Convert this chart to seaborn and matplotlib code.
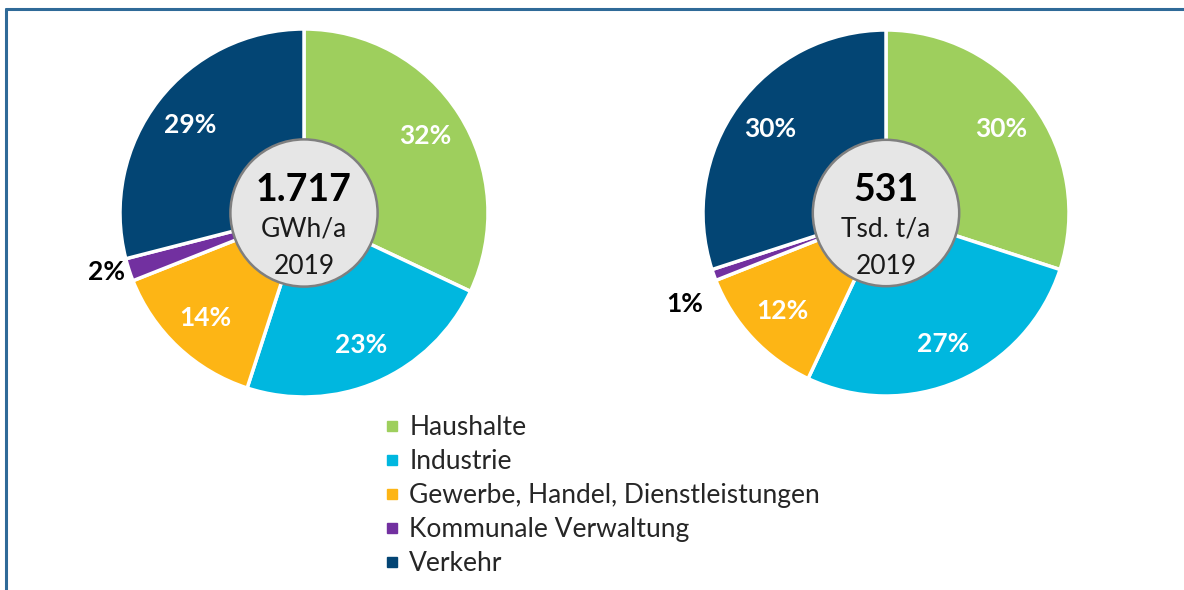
import matplotlib
matplotlib.use("Agg")
import matplotlib.pyplot as plt
import seaborn as sns
from matplotlib.lines import Line2D
from matplotlib.patches import Circle

# data
sectors = ["Haushalte", "Industrie", "Gewerbe, Handel, Dienstleistungen",
           "Kommunale Verwaltung", "Verkehr"]
energy_share = [32, 23, 14, 2, 29]
co2_share = [30, 27, 12, 1, 30]
energy_total = "1.717"
energy_unit = "GWh/a"
co2_total = "531"
co2_unit = "Tsd. t/a"
year = "2019"

colors = ["#9ECF5D", "#00B7DF", "#FDB515", "#7230A0", "#034574"]

sns.set_theme(style="white")
plt.rcParams["font.family"] = ["Lato", "DejaVu Sans"]

W, H = 1184, 590
fig = plt.figure(figsize=(W / 100, H / 100), dpi=100)


def px_axes(cx, cy, r):
    return fig.add_axes([(cx - r) / W, 1 - (cy + r) / H, 2 * r / W, 2 * r / H])


def donut(ax, values, total, unit, out_dist=1.45, out_dy=0.0):
    wedges, texts = ax.pie(
        values, colors=colors, startangle=90, counterclock=False,
        labels=[f"{v}%" for v in values], labeldistance=0.78,
        wedgeprops=dict(edgecolor="white", linewidth=2.5),
        textprops=dict(color="white", fontsize=19, fontweight="bold"),
    )
    # small slice labelled outside in black
    for v, t in zip(values, texts):
        t.set_ha("center")
        t.set_va("center")
        if v < 5:
            x, y = t.get_position()
            t.set_position((x * out_dist, y * out_dist + out_dy))
            t.set_color("black")
    ax.add_patch(Circle((0, 0), 0.40, facecolor="#E6E6E6",
                        edgecolor="#7F7F7F", linewidth=1.8, zorder=5))
    ax.text(0, 0.125, total, ha="center", va="center", fontsize=27,
            fontweight="bold", color="black", zorder=6)
    ax.text(0, -0.085, unit, ha="center", va="center", fontsize=19,
            color="#1a1a1a", zorder=6)
    ax.text(0, -0.29, year, ha="center", va="center", fontsize=19,
            color="#1a1a1a", zorder=6)
    ax.set_xlim(-1, 1)
    ax.set_ylim(-1, 1)
    ax.set_aspect("equal")
    ax.axis("off")


donut(px_axes(304, 213, 184), energy_share, energy_total, energy_unit,
      out_dist=1.45, out_dy=0.03)
donut(px_axes(886, 213, 183), co2_share, co2_total, co2_unit,
      out_dist=1.5, out_dy=-0.1)

handles = [Line2D([], [], marker="s", linestyle="none", markersize=7,
                  markerfacecolor=c, markeredgecolor=c) for c in colors]
fig.legend(handles, sectors, loc="upper left",
           bbox_to_anchor=(379 / W, 1 - 415 / H), frameon=False,
           fontsize=19, labelspacing=0.34, handletextpad=0.15,
           handlelength=1.0, borderaxespad=0, borderpad=0)

# frame lines (top and left)
frame_col = "#2F6A98"
fig.add_artist(Line2D([6 / W, 1], [1 - 9 / H, 1 - 9 / H], color=frame_col,
                      linewidth=2.2, transform=fig.transFigure))
fig.add_artist(Line2D([6 / W, 6 / W], [0, 1 - 9 / H], color=frame_col,
                      linewidth=2.2, transform=fig.transFigure))

fig.savefig("out.png", dpi=100)
